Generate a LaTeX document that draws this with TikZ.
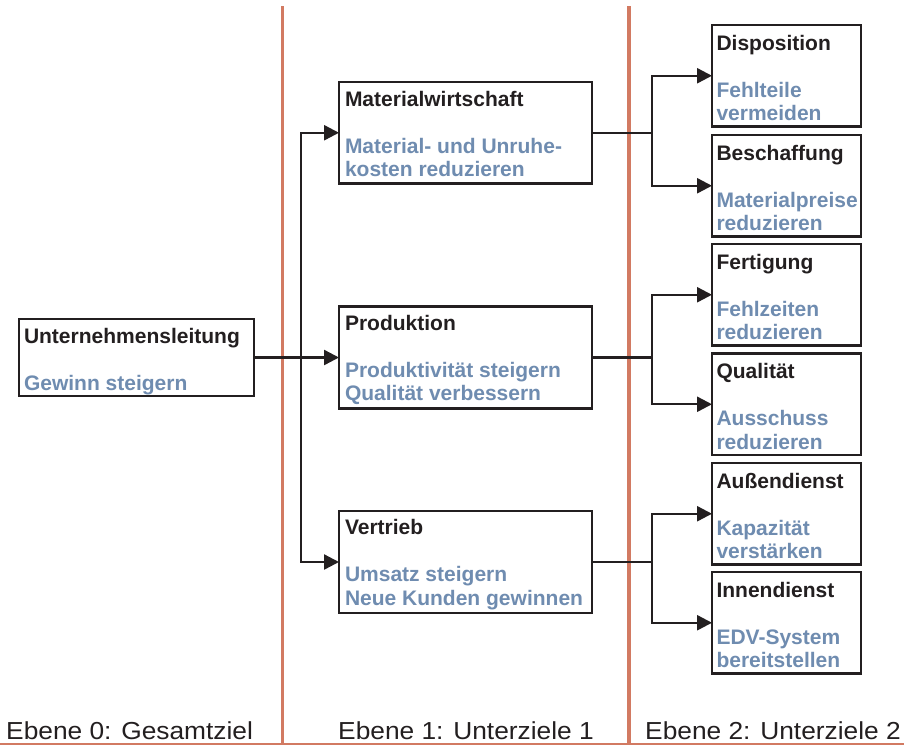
\documentclass[tikz,border=0pt]{standalone}
\usepackage{fontspec}
\usepackage{graphicx}
\setmainfont{Liberation Sans}
\usetikzlibrary{arrows.meta}
\definecolor{ink}{HTML}{231F20}
\definecolor{zblue}{HTML}{6F8CB0}
\definecolor{zorange}{HTML}{D27A62}
\newcommand\zbx[5]{%
\begin{minipage}[t][#2pt][t]{#1pt}\fontsize{21}{23.5}\selectfont\bfseries\raggedright
\rule{0pt}{#3pt}\textcolor{ink}{#4}\\[23.5pt]\textcolor{zblue}{#5}\end{minipage}}
\begin{document}
\begin{tikzpicture}[x=1pt,y=-1pt,
  zbox/.style={draw=ink, line width=2.4pt, fill=white, inner xsep=6pt, inner ysep=0pt, outer sep=0pt, anchor=north west},
  rbox/.style={zbox, inner xsep=4.5pt},
  conn/.style={draw=ink, line width=2.4pt},
  arr/.style={conn, -{Triangle[length=15pt,width=15pt]}},
  divider/.style={draw=zorange, line width=3.6pt},
  lab/.style={font=\fontsize{24.6}{28}\selectfont, text=ink, inner sep=0pt, anchor=base west}]
\useasboundingbox (0,0) rectangle (904,745);
% dividers
\draw[divider] (282.5,6) -- (282.5,745);
\draw[divider] (629,6) -- (629,745);
\draw[draw=zorange, line width=1.8pt] (0,744) -- (904,744);
% level 0
\node[zbox, inner xsep=5pt] (ul) at (19,319) {\zbx{225}{77}{24}{Unternehmensleitung}{Gewinn steigern}};
% level 1
\node[zbox] (mw) at (339,82) {\zbx{241}{101.5}{24}{Materialwirtschaft}{Material- und Unruhe-\\kosten reduzieren}};
\node[zbox] (pr) at (339,306.5) {\zbx{241}{102}{23.5}{Produktion}{Produktivität steigern\\Qualität verbessern}};
\node[zbox] (vt) at (339,511) {\zbx{241}{102}{23.5}{Vertrieb}{Umsatz steigern\\Neue Kunden gewinnen}};
% level 2
\node[rbox] (disp) at (712,25) {\zbx{140}{101.5}{25}{Disposition}{Fehlteile\\vermeiden}};
\node[rbox] (besch) at (712,135) {\zbx{140}{101.5}{25}{Beschaffung}{Materialpreise\\reduzieren}};
\node[rbox] (fert) at (712,244) {\zbx{140}{101.5}{25}{Fertigung}{Fehlzeiten\\reduzieren}};
\node[rbox] (qual) at (712,353.5) {\zbx{140}{101.5}{25}{Qualität}{Ausschuss\\reduzieren}};
\node[rbox] (aud) at (712,463) {\zbx{140}{101.5}{25}{Außendienst}{Kapazität\\verstärken}};
\node[rbox] (ind) at (712,572) {\zbx{140}{101.5}{25}{Innendienst}{EDV-System\\bereitstellen}};
% junctions
\path (ul.east) ++(47,0) coordinate (j0);
\path (mw.east) ++(60,0) coordinate (j1);
\path (pr.east) ++(60,0) coordinate (j2);
\path (vt.east) ++(60,0) coordinate (j3);
% connectors
\draw[conn] (ul.east) -- (j0);
\draw[arr] (j0) |- (mw.west);
\draw[arr] (j0) -- (pr.west);
\draw[arr] (j0) |- (vt.west);
\draw[conn] (mw.east) -- (j1);
\draw[arr] (j1) |- (disp.west);
\draw[arr] (j1) |- (besch.west);
\draw[conn] (pr.east) -- (j2);
\draw[arr] (j2) |- (fert.west);
\draw[arr] (j2) |- (qual.west);
\draw[conn] (vt.east) -- (j3);
\draw[arr] (j3) |- (aud.west);
\draw[arr] (j3) |- (ind.west);
% level labels
\node[lab] (l0) at (6,739) {\scalebox{1.07}[1]{Ebene 0: Gesamtziel}};
\node[lab] (l1) at (338,739) {\scalebox{1.07}[1]{Ebene 1: Unterziele 1}};
\node[lab] (l2) at (645,739) {\scalebox{1.07}[1]{Ebene 2: Unterziele 2}};
\end{tikzpicture}
\end{document}
